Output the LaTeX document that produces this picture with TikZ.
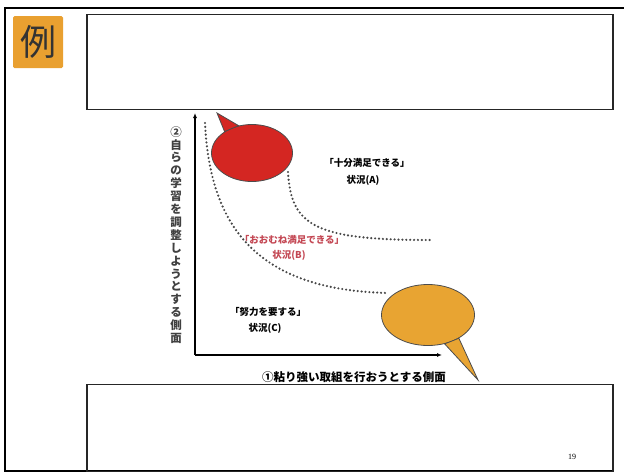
\documentclass[tikz,border=0pt]{standalone}
\usepackage{fontspec}
\setmainfont{Noto Sans CJK JP}
\newfontfamily\numfont{Liberation Serif}
\usetikzlibrary{shapes.geometric,arrows.meta}
\definecolor{bubred}{RGB}{212,38,34}
\definecolor{bubora}{RGB}{232,164,50}
\definecolor{reiora}{RGB}{233,160,48}
\definecolor{labred}{RGB}{196,72,84}
\tikzset{
  frame/.style={line width=2.2pt,black},
  box/.style={draw=black!85,line width=1.1pt},
  axis/.style={line width=1.4pt,-{Latex[length=5pt,width=4pt]}},
  dotcurve/.style={draw=black!72,line width=2.4pt,line cap=round,dash pattern=on 0pt off 3.9pt},
  bubble/.style={ellipse,draw=black!70,line width=0.8pt,inner sep=0pt},
  lab/.style={font=\fontsize{9.5}{11}\selectfont\bfseries,inner sep=0pt},
}
\begin{document}
\begin{tikzpicture}[x=1pt,y=-1pt]
\useasboundingbox (0,0) rectangle (624,474);
\fill[white] (0,0) rectangle (624,474);
% page frame
\draw[frame] (624,8) -- (5,8) -- (5,471) -- (613,471);
% 例 badge
\node[fill=reiora,rounded corners=1.5pt,minimum width=50pt,minimum height=52pt,inner sep=0pt,
  font=\fontsize{36}{36}\selectfont,text=black!80] (rei) at (38,42) {例};
% title box and bottom box
\node[box,minimum width=526pt,minimum height=95pt,inner sep=0pt] (titlebox) at (350,62) {};
\node[box,minimum width=526pt,minimum height=87pt,inner sep=0pt] (bottombox) at (350,428) {};
\node[font=\numfont\fontsize{8}{8}\selectfont] (pnum) at (572,457) {19};
% axes
\coordinate (origin) at (195,355);
\coordinate (ytop) at (195,113);
\coordinate (xend) at (442,355);
\draw[axis] (origin) -- (ytop);
\draw[axis] (origin) -- (xend);
% axis labels
\node[font=\fontsize{11.5}{12.9}\selectfont\bfseries,align=center,text width=12pt,inner sep=0pt,text=black!75] (ylab) at (176,235)
 {②\\自\\ら\\の\\学\\習\\を\\調\\整\\し\\よ\\う\\と\\す\\る\\側\\面};
\node[font=\fontsize{11.5}{12}\selectfont\bfseries,inner sep=0pt] (xlab) at (354,377) {①粘り強い取組を行おうとする側面};
% dotted curves
\coordinate (bstart) at (205,123);
\coordinate (bend) at (388,293);
\coordinate (astart) at (288,172);
\coordinate (aend) at (430,240);
\draw[dotcurve] (bstart) .. controls (210,230) and (260,290) .. (bend);
\draw[dotcurve] (astart) .. controls (291,226) and (315,240) .. (aend);
% red bubble
\node[bubble,fill=bubred,minimum width=81pt,minimum height=57pt] (redb) at (252,153) {};
\coordinate (redtip) at (217,113);
\filldraw[fill=bubred,draw=black!70,line width=0.8pt] (redb.142) -- (redtip) -- (redb.116) -- cycle;
\node[bubble,fill=bubred,draw=none,minimum width=79pt,minimum height=55pt] (redfill) at (redb.center) {};
% orange bubble
\node[bubble,fill=bubora,minimum width=93pt,minimum height=61pt] (orab) at (428,315) {};
\coordinate (oratip) at (478,380);
\filldraw[fill=bubora,draw=black!70,line width=0.8pt] (orab.-60) -- (oratip) -- (orab.-37) -- cycle;
\node[bubble,fill=bubora,draw=none,minimum width=91pt,minimum height=59pt] (orafill) at (orab.center) {};
% region labels
\node[lab] (la1) at (367,163) {「十分満足できる」};
\node[lab] (la2) at (363,180) {状況(A)};
\node[lab,text=labred] (lb1) at (292,240) {「おおむね満足できる」};
\node[lab,text=labred] (lb2) at (289,255) {状況(B)};
\node[lab] (lc1) at (268,312) {「努力を要する」};
\node[lab] (lc2) at (265,328) {状況(C)};
\end{tikzpicture}
\end{document}
